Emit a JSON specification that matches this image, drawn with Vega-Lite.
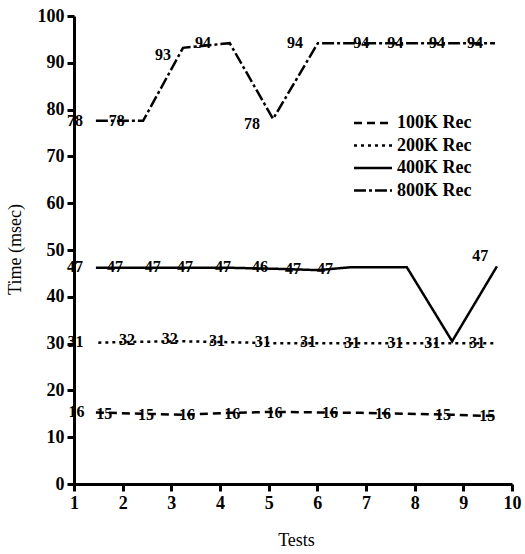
{
  "$schema": "https://vega.github.io/schema/vega-lite/v6.json",
  "autosize": "none",
  "width": 438,
  "height": 468,
  "padding": {"left": 74, "top": 16, "right": 13, "bottom": 70},
  "background": "white",
  "config": {
    "view": {"stroke": null},
    "axis": {
      "domainColor": "black", "domainWidth": 3, "tickColor": "black", "tickWidth": 3, "tickSize": 7,
      "grid": false, "labelFont": "Liberation Serif", "labelFontSize": 18, "labelFontWeight": "bold", "labelColor": "black",
      "titleFont": "Liberation Serif", "titleFontSize": 18, "titleFontWeight": "normal", "titleColor": "black"
    },
    "legend": {
      "orient": "none", "legendX": 288, "legendY": 96, "symbolType": "M-2,0L2,0", "symbolSize": 361,
      "symbolStrokeWidth": 2.5, "symbolStrokeColor": "black", "labelFont": "Liberation Serif",
      "labelFontSize": 18, "labelFontWeight": "bold", "labelColor": "black", "padding": 0, "rowPadding": 2.5, "labelOffset": 13
    }
  },
  "datasets": {
    "lines": [
      {"series": "100K Rec", "x": 1.45, "y": 15.3},
      {"series": "100K Rec", "x": 2.42, "y": 15.0},
      {"series": "100K Rec", "x": 3.24, "y": 14.8},
      {"series": "100K Rec", "x": 4.2, "y": 15.2},
      {"series": "100K Rec", "x": 5.09, "y": 15.4},
      {"series": "100K Rec", "x": 6.01, "y": 15.3},
      {"series": "100K Rec", "x": 6.9, "y": 15.2},
      {"series": "100K Rec", "x": 7.84, "y": 15.0},
      {"series": "100K Rec", "x": 8.77, "y": 14.8},
      {"series": "100K Rec", "x": 9.65, "y": 14.5},
      {"series": "200K Rec", "x": 1.5, "y": 30.2},
      {"series": "200K Rec", "x": 2.42, "y": 30.4},
      {"series": "200K Rec", "x": 3.24, "y": 30.5},
      {"series": "200K Rec", "x": 4.2, "y": 30.3},
      {"series": "200K Rec", "x": 5.09, "y": 30.1},
      {"series": "200K Rec", "x": 6.01, "y": 30.1},
      {"series": "200K Rec", "x": 6.9, "y": 30.1},
      {"series": "200K Rec", "x": 7.84, "y": 30.1},
      {"series": "200K Rec", "x": 8.77, "y": 30.1},
      {"series": "200K Rec", "x": 9.65, "y": 30.1},
      {"series": "400K Rec", "x": 1.45, "y": 46.2},
      {"series": "400K Rec", "x": 2.42, "y": 46.2},
      {"series": "400K Rec", "x": 3.24, "y": 46.2},
      {"series": "400K Rec", "x": 4.2, "y": 46.2},
      {"series": "400K Rec", "x": 5.09, "y": 46.0},
      {"series": "400K Rec", "x": 6.01, "y": 45.7},
      {"series": "400K Rec", "x": 6.67, "y": 46.3},
      {"series": "400K Rec", "x": 7.84, "y": 46.3},
      {"series": "400K Rec", "x": 8.77, "y": 30.5},
      {"series": "400K Rec", "x": 9.69, "y": 46.5},
      {"series": "800K Rec", "x": 1.45, "y": 77.6},
      {"series": "800K Rec", "x": 2.42, "y": 77.6},
      {"series": "800K Rec", "x": 3.24, "y": 93.2},
      {"series": "800K Rec", "x": 4.2, "y": 94.2},
      {"series": "800K Rec", "x": 5.09, "y": 78.0},
      {"series": "800K Rec", "x": 6.01, "y": 94.2},
      {"series": "800K Rec", "x": 6.9, "y": 94.2},
      {"series": "800K Rec", "x": 7.84, "y": 94.2},
      {"series": "800K Rec", "x": 8.77, "y": 94.2},
      {"series": "800K Rec", "x": 9.65, "y": 94.2}
    ],
    "labels": [
      {"x": 1.05, "y": 15.3, "t": "16"},
      {"x": 1.62, "y": 15.0, "t": "15"},
      {"x": 2.48, "y": 14.7, "t": "15"},
      {"x": 3.32, "y": 14.8, "t": "16"},
      {"x": 4.25, "y": 15.0, "t": "16"},
      {"x": 5.12, "y": 15.2, "t": "16"},
      {"x": 6.26, "y": 15.2, "t": "16"},
      {"x": 7.35, "y": 15.0, "t": "16"},
      {"x": 8.58, "y": 14.8, "t": "15"},
      {"x": 9.49, "y": 14.6, "t": "15"},
      {"x": 1.03, "y": 30.3, "t": "31"},
      {"x": 2.09, "y": 30.8, "t": "32"},
      {"x": 2.97, "y": 30.9, "t": "32"},
      {"x": 3.94, "y": 30.5, "t": "31"},
      {"x": 4.88, "y": 30.3, "t": "31"},
      {"x": 5.81, "y": 30.3, "t": "31"},
      {"x": 6.71, "y": 30.2, "t": "31"},
      {"x": 7.6, "y": 30.1, "t": "31"},
      {"x": 8.36, "y": 30.1, "t": "31"},
      {"x": 9.28, "y": 30.1, "t": "31"},
      {"x": 1.02, "y": 46.3, "t": "47"},
      {"x": 1.84, "y": 46.3, "t": "47"},
      {"x": 2.62, "y": 46.3, "t": "47"},
      {"x": 3.28, "y": 46.3, "t": "47"},
      {"x": 4.06, "y": 46.3, "t": "47"},
      {"x": 4.82, "y": 46.3, "t": "46"},
      {"x": 5.5, "y": 46.0, "t": "47"},
      {"x": 6.16, "y": 46.0, "t": "47"},
      {"x": 9.35, "y": 48.8, "t": "47"},
      {"x": 1.02, "y": 77.6, "t": "78"},
      {"x": 1.88, "y": 77.6, "t": "78"},
      {"x": 2.83, "y": 91.7, "t": "93"},
      {"x": 3.65, "y": 94.3, "t": "94"},
      {"x": 4.66, "y": 77.0, "t": "78"},
      {"x": 5.54, "y": 94.3, "t": "94"},
      {"x": 6.9, "y": 94.2, "t": "94"},
      {"x": 7.6, "y": 94.2, "t": "94"},
      {"x": 8.46, "y": 94.2, "t": "94"},
      {"x": 9.24, "y": 94.2, "t": "94"}
    ]
  },
  "encoding": {
    "x": {
      "field": "x", "type": "quantitative",
      "scale": {"domain": [1, 10], "nice": false, "zero": false},
      "axis": {"values": [1,2,3,4,5,6,7,8,9,10], "labelFlush": false, "labelOverlap": false, "labelPadding": 3,
               "title": "Tests", "titleX": 222, "titleY": 56, "titleBaseline": "middle", "titleAlign": "center"}
    },
    "y": {
      "field": "y", "type": "quantitative",
      "scale": {"domain": [0, 100], "nice": false},
      "axis": {"values": [0,10,20,30,40,50,60,70,80,90,100], "labelPadding": 3,
               "title": "Time (msec)", "titleX": -59, "titleY": 233, "titleAngle": -90,
               "titleBaseline": "middle", "titleAlign": "center"}
    }
  },
  "layer": [
    {
      "data": {"name": "lines"},
      "mark": {"type": "line", "color": "black", "strokeWidth": 2.5},
      "encoding": {
        "strokeDash": {
          "field": "series", "type": "nominal",
          "scale": {"domain": ["100K Rec", "200K Rec", "400K Rec", "800K Rec"],
                    "range": [[8, 5], [3, 4], [1, 0], [12, 3, 3, 3]]},
          "legend": {"title": null}
        }
      }
    },
    {
      "data": {"name": "labels"},
      "mark": {"type": "text", "font": "Liberation Serif", "fontSize": 16, "fontWeight": "bold", "color": "black",
               "align": "center", "baseline": "middle"},
      "encoding": {"text": {"field": "t", "type": "nominal"}}
    }
  ]
}
